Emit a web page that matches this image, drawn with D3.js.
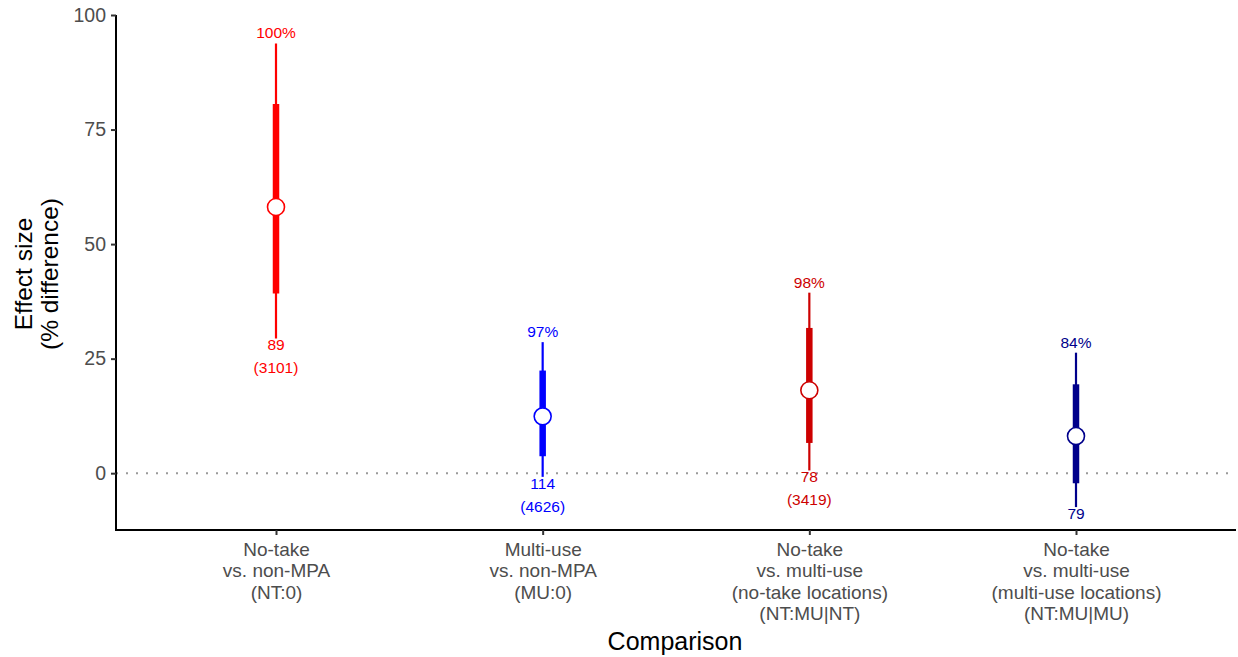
<!DOCTYPE html>
<html>
<head>
<meta charset="utf-8">
<script src="https://cdn.jsdelivr.net/npm/d3@7"></script>
<style>
  body { margin: 0; background: #fff; }
  svg { display: block; font-family: "Liberation Sans", Arial, sans-serif; }
</style>
</head>
<body>
<svg id="chart" width="1238" height="657"></svg>
<script>
// comparisons, left to right
var categories = [
  ["No-take", "vs. non-MPA", "(NT:0)"],
  ["Multi-use", "vs. non-MPA", "(MU:0)"],
  ["No-take", "vs. multi-use", "(no-take locations)", "(NT:MU|NT)"],
  ["No-take", "vs. multi-use", "(multi-use locations)", "(NT:MU|MU)"]
];
var estimate = [58.1, 12.4, 18.1, 8.1];
var innerLow = [39.2, 3.7, 6.6, -2.2];
var innerHigh = [80.6, 22.4, 31.7, 19.4];
var outerLow = [29.4, -0.8, 0.6, -7.4];
var outerHigh = [93.8, 28.6, 39.4, 26.3];
var probLabels = ["100%", "97%", "98%", "84%"];
var studyLabels = ["89", "114", "78", "79"];
var obsLabels = ["(3101)", "(4626)", "(3419)", ""];
var colours = ["#FF0000", "#0000FF", "#CD0000", "#00008B"];
var yTicks = [0, 25, 50, 75, 100];

var svg = d3.select("#chart");
var mLeft = 116, mRight = 1236, mTop = 15, mBottom = 530;

var x = d3.scalePoint()
  .domain(d3.range(categories.length))
  .range([mLeft, mRight])
  .padding(0.6);

var y = d3.scaleLinear()
  .domain([-12.4, 100])
  .range([mBottom, mTop]);

// zero reference line
svg.append("line")
  .attr("x1", mLeft).attr("x2", mRight)
  .attr("y1", y(0)).attr("y2", y(0))
  .attr("stroke", "#999")
  .attr("stroke-width", 2)
  .attr("stroke-dasharray", "2,8");

// axes
var yAxis = svg.append("g")
  .attr("transform", "translate(" + mLeft + ",0)")
  .call(d3.axisLeft(y).tickValues(yTicks).tickSize(5).tickSizeOuter(0).tickPadding(5));
yAxis.select(".domain").attr("stroke", "#000").attr("stroke-width", 2)
  .attr("d", "M0," + mTop + "V" + mBottom);
yAxis.selectAll(".tick line").attr("stroke", "#333").attr("stroke-width", 2);
yAxis.selectAll(".tick text").attr("fill", "#4d4d4d").style("font-size", "19.5px");

var xAxis = svg.append("g")
  .attr("transform", "translate(0," + mBottom + ")")
  .call(d3.axisBottom(x).tickSize(5).tickSizeOuter(0).tickFormat(""));
xAxis.select(".domain").attr("stroke", "#000").attr("stroke-width", 2)
  .attr("d", "M" + (mLeft - 1) + ",0H" + mRight);
xAxis.selectAll(".tick line").attr("stroke", "#333").attr("stroke-width", 2);

xAxis.selectAll(".tick").each(function(d) {
  var t = d3.select(this).append("text")
    .attr("fill", "#4d4d4d")
    .attr("text-anchor", "middle")
    .style("font-size", "19px");
  categories[d].forEach(function(line, i) {
    t.append("tspan").attr("x", 0).attr("y", 26 + i * 21.3).text(line);
  });
});

svg.append("text")
  .attr("x", (mLeft + mRight) / 2 - 1)
  .attr("y", 650)
  .attr("text-anchor", "middle")
  .style("font-size", "25px")
  .text("Comparison");

var yt = svg.append("text")
  .attr("transform", "translate(31.5,274) rotate(-90)")
  .attr("text-anchor", "middle")
  .style("font-size", "24.5px");
yt.append("tspan").attr("x", 0).attr("y", 0).text("Effect size");
yt.append("tspan").attr("x", 0).attr("y", 26).text("(% difference)");

// intervals and points
var g = svg.selectAll(".est")
  .data(estimate)
  .enter().append("g")
  .attr("class", "est");

g.append("line")
  .attr("x1", function(d, i) { return x(i); })
  .attr("x2", function(d, i) { return x(i); })
  .attr("y1", function(d, i) { return y(outerLow[i]); })
  .attr("y2", function(d, i) { return y(outerHigh[i]); })
  .attr("stroke", function(d, i) { return colours[i]; })
  .attr("stroke-width", 2.2);

g.append("line")
  .attr("x1", function(d, i) { return x(i); })
  .attr("x2", function(d, i) { return x(i); })
  .attr("y1", function(d, i) { return y(innerLow[i]); })
  .attr("y2", function(d, i) { return y(innerHigh[i]); })
  .attr("stroke", function(d, i) { return colours[i]; })
  .attr("stroke-width", 6.5);

g.append("circle")
  .attr("cx", function(d, i) { return x(i); })
  .attr("cy", function(d) { return y(d); })
  .attr("r", 8.5)
  .attr("fill", "#fff")
  .attr("stroke", function(d, i) { return colours[i]; })
  .attr("stroke-width", 1.6);

g.append("text")
  .attr("x", function(d, i) { return x(i); })
  .attr("y", function(d, i) { return y(outerHigh[i]) - 5; })
  .attr("text-anchor", "middle")
  .attr("fill", function(d, i) { return colours[i]; })
  .style("font-size", "15.5px")
  .text(function(d, i) { return probLabels[i]; });

g.append("text")
  .attr("x", function(d, i) { return x(i); })
  .attr("y", function(d, i) { return y(outerLow[i]) + 12; })
  .attr("text-anchor", "middle")
  .attr("fill", function(d, i) { return colours[i]; })
  .style("font-size", "15.5px")
  .text(function(d, i) { return studyLabels[i]; });

g.append("text")
  .attr("x", function(d, i) { return x(i); })
  .attr("y", function(d, i) { return y(outerLow[i]) + 35; })
  .attr("text-anchor", "middle")
  .attr("fill", function(d, i) { return colours[i]; })
  .style("font-size", "15.5px")
  .text(function(d, i) { return obsLabels[i]; });
</script>
</body>
</html>
